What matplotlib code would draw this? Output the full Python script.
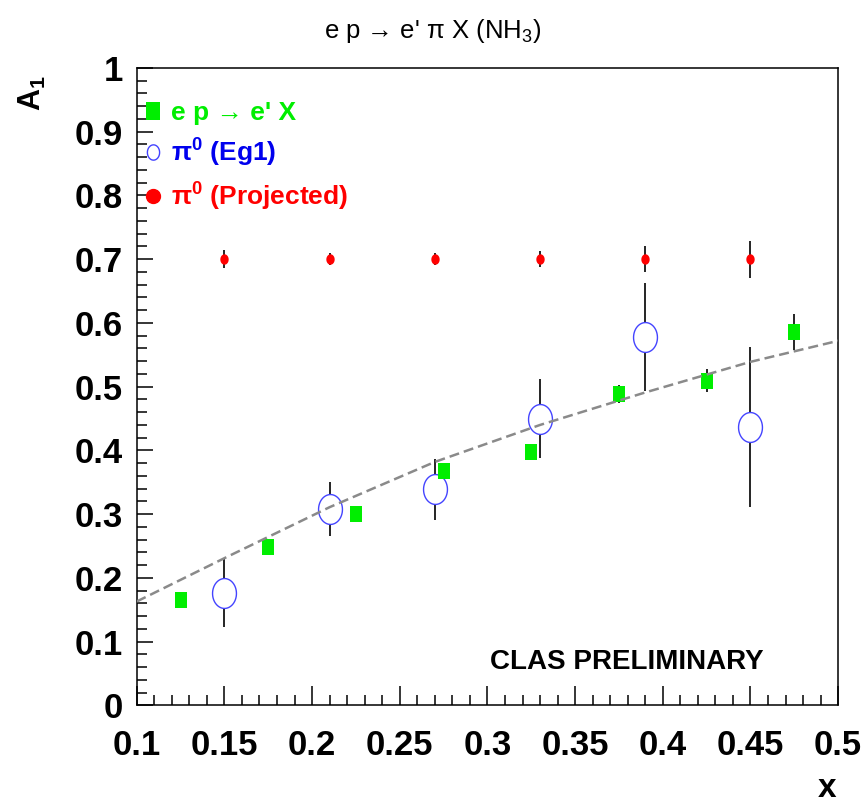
import numpy as np
import matplotlib
matplotlib.use("Agg")
import matplotlib.pyplot as plt
from matplotlib.path import Path
from matplotlib.ticker import MultipleLocator
from matplotlib.lines import Line2D

plt.rcParams['font.family'] = ['Liberation Sans', 'DejaVu Sans']
plt.rcParams['mathtext.fontset'] = 'custom'
plt.rcParams['mathtext.rm'] = 'Liberation Sans'
plt.rcParams['mathtext.it'] = 'Liberation Sans'
plt.rcParams['mathtext.bf'] = 'Liberation Sans:bold'
plt.rcParams['mathtext.default'] = 'regular'

# inclusive e p -> e' X
x_incl = [0.125, 0.175, 0.225, 0.275, 0.325, 0.375, 0.425, 0.475]
a1_incl = [0.166, 0.248, 0.301, 0.368, 0.397, 0.489, 0.509, 0.586]
err_incl = [0.005, 0.005, 0.006, 0.008, 0.008, 0.014, 0.018, 0.028]

# pi0 from Eg1
x_eg1 = [0.15, 0.21, 0.27, 0.33, 0.39, 0.45]
a1_eg1 = [0.176, 0.308, 0.339, 0.450, 0.578, 0.437]
err_eg1 = [0.053, 0.042, 0.048, 0.062, 0.085, 0.126]

# projected pi0
x_proj = [0.15, 0.21, 0.27, 0.33, 0.39, 0.45]
a1_proj = [0.70, 0.70, 0.70, 0.70, 0.70, 0.70]
err_proj = [0.014, 0.009, 0.009, 0.013, 0.020, 0.029]

# parametrisation curve
x_fit = [0.10, 0.15, 0.21, 0.27, 0.33, 0.39, 0.45, 0.50]
a1_fit = [0.163, 0.231, 0.311, 0.382, 0.440, 0.491, 0.539, 0.572]

GREEN = '#00ee00'
BLUE = '#4444ff'
RED = '#ff0000'

t = np.linspace(0, 2 * np.pi, 60)
ellipse = Path(np.column_stack([0.8 * np.cos(t), np.sin(t)]), closed=True)
rect = Path([(-0.8, -1), (0.8, -1), (0.8, 1), (-0.8, 1), (-0.8, -1)], closed=True)

fig = plt.figure(figsize=(8.65, 8.09), dpi=100)
ax = fig.add_axes([0.158, 0.128, 0.811, 0.788])

ax.errorbar(x_incl, a1_incl, yerr=err_incl, fmt='none', ecolor='black', elinewidth=1.2, zorder=2)
ax.errorbar(x_eg1, a1_eg1, yerr=err_eg1, fmt='none', ecolor='black', elinewidth=1.2, zorder=2)
ax.errorbar(x_proj, a1_proj, yerr=err_proj, fmt='none', ecolor='black', elinewidth=1.2, zorder=2)

ax.plot(x_eg1, a1_eg1, ls='none', marker=ellipse, ms=21.5, mfc='white', mec=BLUE, mew=1.0, zorder=3)
ax.plot(x_incl, a1_incl, ls='none', marker=rect, ms=11, mfc=GREEN, mec=GREEN, mew=0, zorder=3)
ax.plot(x_proj, a1_proj, ls='none', marker=ellipse, ms=7.5, mfc=RED, mec=RED, mew=0, zorder=3)

ax.plot(x_fit, a1_fit, color='#8a8a8a', lw=1.8, dashes=(4, 2), zorder=4)

ax.set_xlim(0.1, 0.5)
ax.set_ylim(0, 1)
ax.xaxis.set_major_locator(MultipleLocator(0.05))
ax.xaxis.set_minor_locator(MultipleLocator(0.01))
ax.yaxis.set_major_locator(MultipleLocator(0.1))
ax.yaxis.set_minor_locator(MultipleLocator(0.02))
ax.xaxis.set_major_formatter(lambda v, p: f"{v:.2f}".rstrip('0'))
ax.yaxis.set_major_formatter(lambda v, p: "0" if v == 0 else ("1" if v == 1 else f"{v:.1f}"))

ax.tick_params(axis='x', which='major', direction='in', length=14, width=1.1, pad=17)
ax.tick_params(axis='x', which='minor', direction='in', length=7, width=1.1)
ax.tick_params(axis='y', which='major', direction='in', length=11.5, width=1.1, pad=10)
ax.tick_params(axis='y', which='minor', direction='in', length=7, width=1.1)
ax.tick_params(labelsize=25)
for lab in ax.get_xticklabels() + ax.get_yticklabels():
    lab.set_fontweight('bold')
for sp in ax.spines.values():
    sp.set_linewidth(1.1)

fig.text(0.5, 0.962, r"e p → e' π X (NH$_3$)", ha='center', va='center', fontsize=18.5)
fig.text(0.037, 0.885, r"A$_1$", ha='center', va='center', fontsize=22, fontweight='bold', rotation=90)
fig.text(0.956, 0.015, "x", ha='center', va='baseline', fontsize=24, fontweight='bold')
ax.text(0.503, 0.068, "CLAS PRELIMINARY", transform=ax.transAxes, ha='left', va='center',
        fontsize=20, fontweight='bold')

handles = [
    Line2D([], [], ls='none', marker=rect, ms=13, mfc=GREEN, mec=GREEN, mew=0),
    Line2D([], [], ls='none', marker=ellipse, ms=11, mfc='none', mec=BLUE, mew=1.0),
    Line2D([], [], ls='none', marker='o', ms=10, mfc=RED, mec=RED),
]
labels = [r"e p → e' X", r"$\pi^0$ (Eg1)", r"$\pi^0$ (Projected)"]
leg = ax.legend(handles, labels, loc='upper left', bbox_to_anchor=(-0.005, 0.965), frameon=False,
                fontsize=19, handlelength=0.7, handletextpad=0.35, labelspacing=0.45, borderaxespad=0)
for txt, col in zip(leg.get_texts(), [GREEN, '#0000ee', RED]):
    txt.set_color(col)
    txt.set_fontweight('bold')

fig.savefig('out.png', dpi=100)
